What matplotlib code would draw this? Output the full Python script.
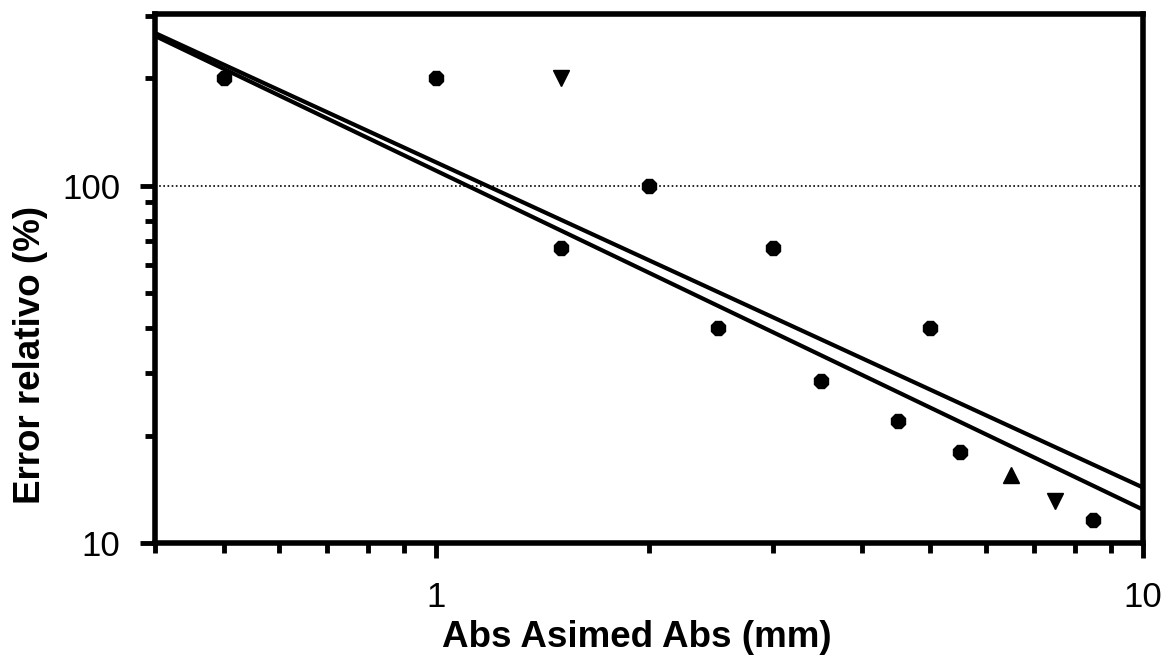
import matplotlib
matplotlib.use("Agg")
import matplotlib.pyplot as plt
from matplotlib.ticker import LogLocator, NullFormatter, FixedLocator, FixedFormatter

plt.rcParams['font.family'] = ['Liberation Sans', 'DejaVu Sans']

# puntos (hexagonos)
hex_x = [0.5, 1.0, 1.5, 2.0, 2.5, 3.0, 3.5, 4.5, 5.0, 5.5, 8.5]
hex_y = [200, 200, 67, 100, 40, 67, 28.4, 22, 40, 18, 11.6]
# triangulos hacia abajo
tdown_x = [1.5, 7.5]
tdown_y = [200, 13.1]
# triangulo hacia arriba
tup_x = [6.5]
tup_y = [15.5]

# rectas de ajuste (extremos)
fit_x = [0.4, 10]
fitA_y = [268, 14.3]
fitB_y = [263, 12.4]

ref_y = 100

fig = plt.figure(figsize=(11.69, 6.59), dpi=100)
ax = fig.add_axes([0.1326, 0.176, 0.8452, 0.8028])
ax.set_xscale('log')
ax.set_yscale('log')

ax.plot(fit_x, fitA_y, color='black', lw=3, solid_capstyle='butt')
ax.plot(fit_x, fitB_y, color='black', lw=3, solid_capstyle='butt')
ax.axhline(ref_y, color='black', lw=1.2, ls=(0, (1, 1.5)))

ax.plot(hex_x, hex_y, ls='none', marker='8', ms=11, color='black')
ax.plot(tdown_x, tdown_y, ls='none', marker='v', ms=11, color='black')
ax.plot(tup_x, tup_y, ls='none', marker='^', ms=11, color='black')

ax.set_xlim(0.4, 10)
ax.set_ylim(10, 303)

ax.xaxis.set_major_locator(FixedLocator([1, 10]))
ax.xaxis.set_major_formatter(FixedFormatter(['1', '10']))
ax.xaxis.set_minor_locator(LogLocator(base=10, subs=[2, 3, 4, 5, 6, 7, 8, 9]))
ax.xaxis.set_minor_formatter(NullFormatter())
ax.yaxis.set_major_locator(FixedLocator([10, 100]))
ax.yaxis.set_major_formatter(FixedFormatter(['10', '100']))
ax.yaxis.set_minor_locator(LogLocator(base=10, subs=[2, 3, 4, 5, 6, 7, 8, 9]))
ax.yaxis.set_minor_formatter(NullFormatter())

ax.tick_params(which='major', length=11, width=3.5, labelsize=25, direction='out')
ax.tick_params(axis='x', which='major', pad=16)
ax.tick_params(axis='y', which='major', pad=14)
ax.tick_params(which='minor', length=7, width=3.5, direction='out')
for s in ax.spines.values():
    s.set_linewidth(4)

ax.set_xlabel('Abs Asimed Abs (mm)', fontsize=26.5, fontweight='bold', va='baseline')
ax.xaxis.set_label_coords(0.488, -0.1966)
ax.set_ylabel('Error relativo (%)', fontsize=26.5, fontweight='bold', va='center')
ax.yaxis.set_label_coords(-0.126, 0.355)

fig.savefig('out.png', dpi=100)
